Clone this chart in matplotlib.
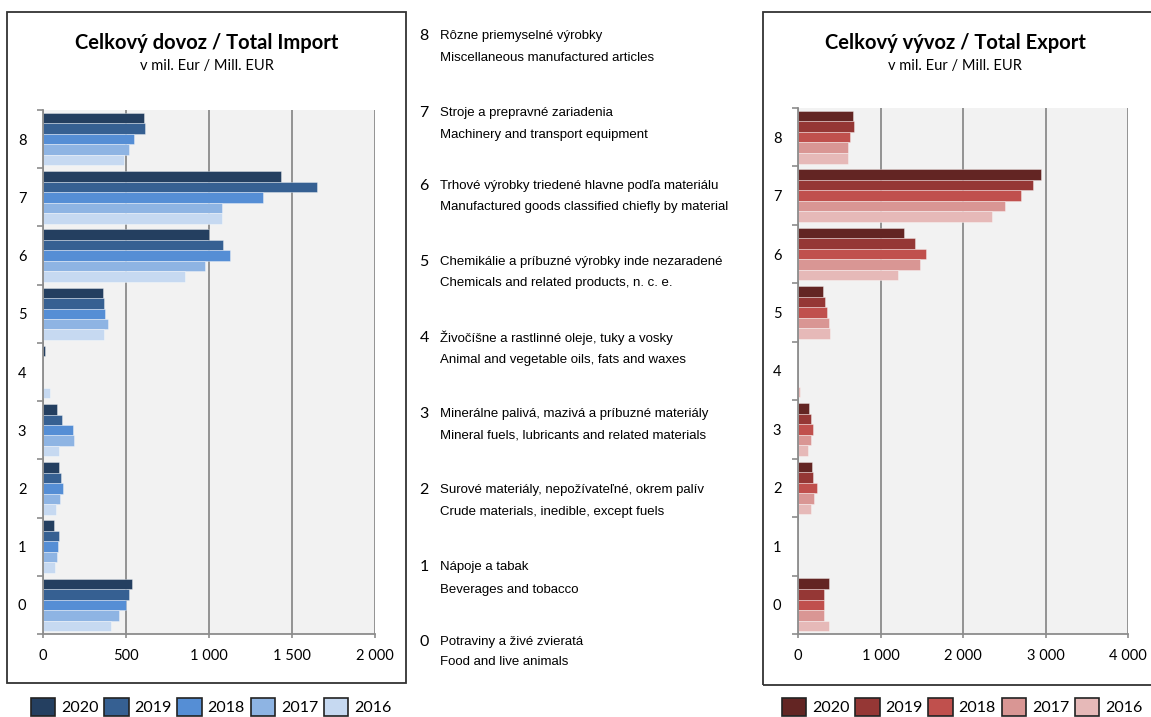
import numpy as np
import matplotlib
matplotlib.use('Agg')
import matplotlib.pyplot as plt
from matplotlib.patches import Rectangle, Patch
from matplotlib.ticker import FuncFormatter, FixedLocator

rcParams = plt.rcParams
rcParams['font.family'] = ['Lato', 'DejaVu Sans']

################################ data ################################
years = ['2020', '2019', '2018', '2017', '2016']
groups = [0, 1, 2, 3, 4, 5, 6, 7, 8]

# import, mil. EUR, per group 0..8
imp_2020 = [537, 66, 96, 84, 12, 360, 999, 1431, 609]
imp_2019 = [521, 94, 111, 115, 2, 370, 1087, 1648, 615]
imp_2018 = [498, 88, 119, 181, 2, 376, 1124, 1323, 551]
imp_2017 = [458, 82, 105, 187, 1, 394, 977, 1079, 519]
imp_2016 = [412, 74, 78, 96, 40, 370, 856, 1081, 486]

# export, mil. EUR, per group 0..8
exp_2020 = [377, 2, 174, 130, 1, 300, 1280, 2942, 669]
exp_2019 = [320, 2, 182, 158, 1, 324, 1418, 2853, 681]
exp_2018 = [312, 2, 235, 186, 1, 357, 1548, 2698, 628]
exp_2017 = [320, 2, 198, 158, 1, 377, 1479, 2504, 604]
exp_2016 = [381, 2, 162, 117, 30, 393, 1211, 2346, 600]

imp_cols = ['#243F60', '#366092', '#558ED5', '#8EB4E3', '#C6D9F1']
exp_cols = ['#632523', '#953735', '#C0504D', '#D99694', '#E6B9B8']

sk_labels = ['Potraviny a živé zvieratá',
             'Nápoje a tabak',
             'Surové materiály, nepožívateľné, okrem palív',
             'Minerálne palivá, mazivá a príbuzné materiály',
             'Živočíšne a rastlinné oleje, tuky a vosky',
             'Chemikálie a príbuzné výrobky inde nezaradené',
             'Trhové výrobky triedené hlavne podľa materiálu',
             'Stroje a prepravné zariadenia',
             'Rôzne priemyselné výrobky']
en_labels = ['Food and live animals',
             'Beverages and tobacco',
             'Crude materials, inedible, except fuels',
             'Mineral fuels, lubricants and related materials',
             'Animal and vegetable oils, fats and waxes',
             'Chemicals and related products, n. c. e.',
             'Manufactured goods classified chiefly by material',
             'Machinery and transport equipment',
             'Miscellaneous manufactured articles']
######################################################################

W, H = 1151, 717
fig = plt.figure(figsize=(W/100., H/100.), dpi=100)

def fx(px): return px/float(W)
def fy(py): return 1 - py/float(H)

# panel frames
fig.patches.append(Rectangle((fx(7), fy(683)), fx(406)-fx(7), fy(12)-fy(683),
                             transform=fig.transFigure, fill=False,
                             edgecolor='#333333', lw=1.3))
fig.patches.append(Rectangle((fx(763), fy(685)), fx(1160)-fx(763), fy(12)-fy(685),
                             transform=fig.transFigure, fill=False,
                             edgecolor='#333333', lw=1.3))

ax1 = fig.add_axes([fx(43), fy(634), fx(375)-fx(43), fy(110)-fy(634)])
ax2 = fig.add_axes([fx(798), fy(634), fx(1128)-fx(798), fy(108)-fy(634)])

y = np.array(groups, dtype=float)
bh = 0.18
offs = [0.36, 0.18, 0.0, -0.18, -0.36]

for ax, data, cols, xmax, step in [
        (ax1, [imp_2020, imp_2019, imp_2018, imp_2017, imp_2016], imp_cols, 2000, 500),
        (ax2, [exp_2020, exp_2019, exp_2018, exp_2017, exp_2016], exp_cols, 4000, 1000)]:
    ax.set_facecolor('#F2F2F2')
    for vals, c, o in zip(data, cols, offs):
        ax.barh(y + o, vals, height=bh, color=c, edgecolor=(1, 1, 1, 0.5),
                lw=0.5, zorder=3)
    ax.set_xlim(0, xmax)
    ax.set_ylim(-0.5, 8.5)
    ax.set_xticks(np.arange(0, xmax + 1, step))
    ax.xaxis.set_major_formatter(FuncFormatter(lambda v, p: '{:,}'.format(int(v)).replace(',', ' ')))
    ax.set_yticks(groups)
    ax.set_yticklabels([str(g) for g in groups])
    ax.yaxis.set_minor_locator(FixedLocator(np.arange(-0.5, 9, 1.0)))
    ax.tick_params(axis='y', which='major', length=0, pad=12, labelsize=10.5)
    ax.tick_params(axis='y', which='minor', length=4, color='#8C8C8C', width=1.2)
    ax.tick_params(axis='x', which='major', length=3, color='#8C8C8C', width=1.2,
                   pad=8, labelsize=10.5)
    ax.grid(axis='x', color='#8C8C8C', lw=1.3, zorder=1)
    ax.set_axisbelow(True)
    for s in ['top', 'right']:
        ax.spines[s].set_visible(False)
    for s in ['left', 'bottom']:
        ax.spines[s].set_color('#8C8C8C')
        ax.spines[s].set_linewidth(1.3)
        ax.spines[s].set_zorder(4)

# titles
fig.text(fx(207), fy(43), 'Celkový dovoz / Total Import', ha='center', va='center',
         fontsize=14.5, fontweight='bold')
fig.text(fx(207), fy(66), 'v mil. Eur / Mill. EUR', ha='center', va='center', fontsize=10.5)
fig.text(fx(955), fy(43), 'Celkový vývoz / Total Export', ha='center', va='center',
         fontsize=14.5, fontweight='bold')
fig.text(fx(955), fy(66), 'v mil. Eur / Mill. EUR', ha='center', va='center', fontsize=10.5)

# middle description column
narrow = ['Liberation Sans Narrow', 'Liberation Sans', 'DejaVu Sans']
row_y = {8: (36, 58), 7: (113, 135), 6: (186, 207), 5: (262, 283), 4: (338, 360),
         3: (414, 435), 2: (490, 512), 1: (567, 590), 0: (642, 662)}
for g in groups:
    y1, y2 = row_y[g]
    fig.text(fx(424), fy(y1), str(g), ha='center', va='center', fontsize=11.5)
    fig.text(fx(440), fy(y1), sk_labels[g], ha='left', va='center', fontsize=9.5,
             family=narrow)
    fig.text(fx(440), fy(y2), en_labels[g], ha='left', va='center', fontsize=9.5,
             family=narrow)

# legends
for cols, cx in [(imp_cols, 211), (exp_cols, 962)]:
    handles = [Patch(facecolor=c, edgecolor='#222222', lw=1.2) for c in cols]
    fig.legend(handles, years, loc='center', bbox_to_anchor=(fx(cx), fy(707)),
               ncol=5, frameon=False, fontsize=11.5, handlelength=1.55,
               handleheight=1.3, handletextpad=0.35, columnspacing=0.35,
               borderpad=0.0)

fig.savefig('out.png', dpi=100)
plt.close(fig)
